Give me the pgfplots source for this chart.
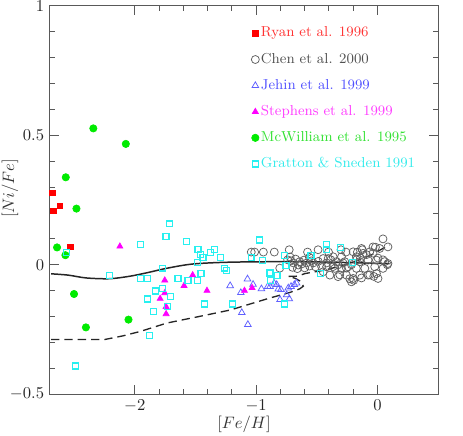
\documentclass[border=0pt]{standalone}
\usepackage{pgfplots}
\pgfplotsset{compat=1.18}
\definecolor{cred}{RGB}{255,0,0}
\definecolor{cgray}{RGB}{95,95,95}
\definecolor{cblue}{RGB}{95,95,255}
\definecolor{cmag}{RGB}{255,0,255}
\definecolor{cgreen}{RGB}{0,235,0}
\definecolor{ccyan}{RGB}{40,240,240}
\definecolor{tred}{RGB}{255,50,50}
\definecolor{tgray}{RGB}{80,80,80}
\definecolor{tblue}{RGB}{80,80,255}
\definecolor{tmag}{RGB}{255,60,255}
\definecolor{tgreen}{RGB}{50,225,50}
\definecolor{tcyan}{RGB}{50,235,235}
\pgfplotsset{mk/.style={only marks, legend image code/.code={\draw[mark repeat=2,mark phase=2,##1] plot coordinates {(0bp,0bp)(3bp,0bp)(6bp,0bp)};}}}
\begin{document}
\begin{tikzpicture}
\begin{axis}[
  scale only axis, width=233.4bp, height=233.4bp,
  xmin=-2.7, xmax=0.5, ymin=-0.5, ymax=1,
  xtick={-2,-1,0}, ytick={-0.5,0,0.5,1},
  minor x tick num=4, minor y tick num=4,
  tick align=inside, xtick pos=both, ytick pos=both,
  major tick length=5.4bp, minor tick length=3bp,
  axis line style={black!65, line width=0.6bp},
  every tick/.style={black!65, line width=0.6bp},
  tick label style={text=black!85},
  xlabel={$[Fe/H]$}, ylabel={$[Ni/Fe]$},
  every axis x label/.style={at={(axis description cs:0.5,-0.077)}, anchor=center, text=black!80},
  every axis y label/.style={at={(axis description cs:-0.103,0.53)}, rotate=90, anchor=center, text=black!80},
  legend style={draw=none, fill=none, at={(axis description cs:0.519,0.948)}, anchor=north west,
    inner sep=0pt, outer sep=0pt, row sep=7bp, column sep=0.5bp, font=\fontsize{8.7}{10}\selectfont,
    nodes={inner sep=0.5bp, text height=6bp, text depth=1.7bp}},
  legend cell align=left,
]
% Ryan et al. 1996
\addplot[mk, color=cred, mark=square*, mark size=1.6bp, mark options={draw=cred, fill=cred}] coordinates {
(-2.679,0.279) (-2.671,0.208) (-2.619,0.229) (-2.531,0.068)
};
\addlegendentry{\textcolor{tred}{Ryan et al. 1996}}
% Chen et al. 2000
\addplot[mk, color=cgray, mark=o, mark size=2.4bp, mark options={draw=cgray, line width=0.45bp}] coordinates {
(-1.040,0.049) (-1.012,0.049) (-0.940,0.049) (-0.850,0.049) (-0.805,-0.013) (-0.727,0.058)
(-0.576,0.049) (-0.489,0.058) (-0.403,0.049) (-0.300,0.058) (-0.259,0.049) (-0.165,0.049)
(-0.124,0.058) (-0.016,0.068) (0.046,0.100) (0.087,0.069) (0.019,0.063) (-0.036,0.069)
(-0.063,0.050) (-0.131,0.063) (-0.118,0.044) (-0.200,0.050)
(-0.740,0.019) (-0.712,0.015) (-0.693,0.007) (-0.675,0.022) (-0.652,-0.001) (-0.640,0.012)
(-0.624,0.003) (-0.605,0.018) (-0.583,0.007) (-0.560,-0.005) (-0.545,0.015) (-0.529,0.007)
(-0.510,-0.008) (-0.488,0.013) (-0.460,-0.007) (-0.700,-0.010) (-0.660,-0.015) (-0.600,-0.012)
(-0.720,0.030) (-0.560,0.028)
(-0.447,0.024) (-0.406,0.024) (-0.365,0.031) (-0.296,0.031) (-0.173,0.031) (-0.419,0.007)
(-0.384,0.019) (-0.365,-0.007) (-0.337,0.012) (-0.324,0.000) (-0.283,0.007) (-0.269,0.012)
(-0.255,-0.013) (-0.214,0.000) (-0.173,0.019) (-0.145,0.012) (-0.140,0.026) (-0.090,0.039)
(-0.077,0.018) (-0.036,0.045) (-0.008,0.018) (0.005,0.026) (0.046,0.019) (0.060,0.012)
(0.082,0.000) (0.087,0.005) (-0.419,-0.008) (-0.351,-0.014) (-0.296,-0.014) (-0.242,-0.008)
(-0.173,-0.014) (-0.104,-0.014) (-0.022,-0.008) (0.046,-0.014) (-0.447,-0.027) (-0.392,-0.040)
(-0.324,-0.046) (-0.255,-0.040) (-0.310,-0.039) (-0.228,-0.054) (-0.200,-0.053) (-0.195,-0.060)
(-0.214,-0.066) (-0.145,-0.040) (-0.131,-0.051) (-0.077,-0.040) (-0.063,-0.039) (-0.030,-0.045)
(-0.008,-0.034) (0.005,-0.053)
};
\addlegendentry{\textcolor{tgray}{Chen et al. 2000}}
% Jehin et al. 1999
\addplot[mk, color=cblue, mark=triangle, mark size=2.3bp, mark options={draw=cblue, line width=0.45bp}] coordinates {
(-1.214,-0.081) (-1.071,-0.055) (-1.126,-0.108) (-1.025,-0.076) (-1.118,-0.185) (-1.068,-0.231)
(-0.956,-0.093) (-0.904,-0.084) (-0.885,-0.084) (-0.852,-0.071) (-0.830,-0.077) (-0.817,-0.094)
(-0.795,-0.096) (-0.735,-0.090) (-0.712,-0.084) (-0.685,-0.077) (-0.666,-0.071) (-0.803,-0.135)
(-0.748,-0.116) (-0.726,-0.132)
};
\addlegendentry{\textcolor{tblue}{Jehin et al. 1999}}
% Stephens et al. 1999
\addplot[mk, color=cmag, mark=triangle*, mark size=2.1bp, mark options={draw=cmag, fill=cmag}] coordinates {
(-2.123,0.071) (-1.753,-0.060) (-1.523,-0.040) (-1.594,-0.081) (-1.405,-0.100) (-1.753,-0.109)
(-1.791,-0.131) (-1.742,-0.162) (-1.742,-0.190) (-1.096,-0.100) (-1.033,-0.089)
};
\addlegendentry{\textcolor{tmag}{Stephens et al. 1999}}
% McWilliam et al. 1995
\addplot[mk, color=cgreen, mark=*, mark size=2.2bp, mark options={draw=cgreen, fill=cgreen}] coordinates {
(-2.342,0.527) (-2.074,0.467) (-2.569,0.338) (-2.481,0.217) (-2.641,0.067) (-2.572,0.037)
(-2.501,-0.113) (-2.403,-0.242) (-2.052,-0.212)
};
\addlegendentry{\textcolor{tgreen}{McWilliam et al. 1995}}
% Gratton & Sneden 1991
\addplot[mk, color=ccyan, mark=square, mark size=1.8bp, mark options={draw=ccyan, fill=none, line width=0.75bp}] coordinates {
(-1.712,0.158) (-1.742,0.108) (-1.953,0.078) (-1.575,0.089) (-1.479,0.059) (-1.458,0.041)
(-1.438,0.028) (-1.376,0.047) (-1.345,0.058) (-1.296,0.028) (-1.485,0.009) (-1.772,-0.013)
(-2.210,-0.042) (-1.953,-0.053) (-1.896,-0.053) (-1.643,-0.053) (-1.561,-0.062) (-1.485,-0.062)
(-1.454,-0.033) (-1.263,-0.013) (-1.244,-0.023) (-1.772,-0.091) (-1.830,-0.101) (-1.704,-0.123)
(-1.896,-0.132) (-1.731,-0.161) (-1.844,-0.181) (-1.423,-0.152) (-1.879,-0.273) (-2.490,-0.391)
(-2.564,0.047) (-1.195,-0.152) (-0.970,0.096) (-1.041,0.027) (-0.945,0.017) (-0.885,-0.032)
(-0.827,-0.042) (-0.879,-0.062) (-0.767,0.037) (-0.753,-0.004) (-0.767,-0.152) (-0.548,0.037)
(-0.417,0.077) (-0.417,0.058) (-0.307,0.067) (-0.468,-0.034) (-0.207,0.010)
};
\addlegendentry{\textcolor{tcyan}{Gratton \& Sneden 1991}}
% model curves
\addplot[forget plot, black!85, line width=0.9bp, smooth, tension=0.5] coordinates {
(-2.69,-0.035) (-2.55,-0.040) (-2.40,-0.051) (-2.21,-0.054) (-2.05,-0.045) (-1.91,-0.032)
(-1.73,-0.013) (-1.52,0.003) (-1.21,0.010) (-0.70,0.012) (-0.30,0.009) (0.10,0.004)
};
\addplot[forget plot, black!85, line width=0.8bp, dash pattern=on 5bp off 3bp] coordinates {
(-2.69,-0.289) (-2.25,-0.289) (-2.10,-0.275) (-1.95,-0.257) (-1.734,-0.225) (-1.46,-0.199)
(-1.214,-0.175) (-0.883,-0.128) (-0.721,-0.107) (-0.64,-0.093) (-0.611,-0.083) (-0.625,-0.066)
(-0.68,-0.052) (-0.735,-0.045) (-0.66,-0.044) (-0.597,-0.034) (-0.45,-0.022) (-0.30,-0.005)
(-0.186,0.012) (-0.05,0.038) (0.046,0.063) (0.10,0.077)
};
\end{axis}
\pgfresetboundingbox
\path[use as bounding box] ([shift={(-30bp,-24.6bp)}]current axis.south west) rectangle ([shift={(15bp,3.6bp)}]current axis.north east);
\end{tikzpicture}
\end{document}
